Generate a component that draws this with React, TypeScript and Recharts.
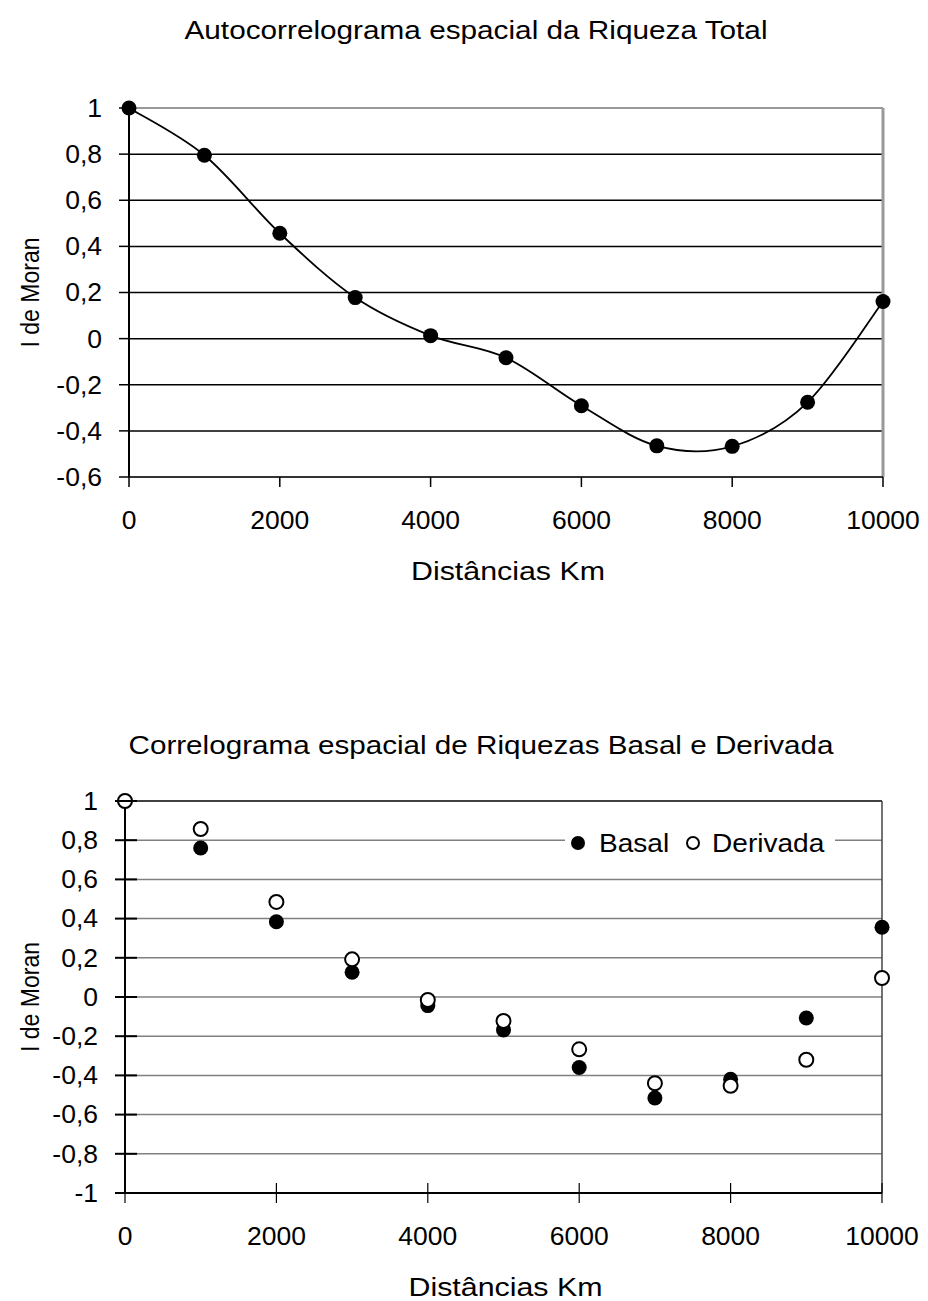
import React from "react";
import {
  LineChart,
  Line,
  ScatterChart,
  Scatter,
  XAxis,
  YAxis,
  CartesianGrid,
  ReferenceLine,
  Legend,
} from "recharts";

// distance classes (km)
const distances = [0, 1000, 2000, 3000, 4000, 5000, 6000, 7000, 8000, 9000, 10000];
// Moran's I, total richness
const riquezaTotal = [1, 0.795, 0.457, 0.178, 0.013, -0.083, -0.291, -0.465, -0.467, -0.276, 0.161];
// Moran's I, basal and derived richness
const basal = [1, 0.76, 0.384, 0.126, -0.044, -0.168, -0.36, -0.515, -0.42, -0.107, 0.356];
const derivada = [1, 0.857, 0.485, 0.192, -0.015, -0.122, -0.267, -0.44, -0.453, -0.32, 0.097];

const xTicks = [0, 2000, 4000, 6000, 8000, 10000];
const yTicksTop = [-0.6, -0.4, -0.2, 0, 0.2, 0.4, 0.6, 0.8, 1];
const yTicksBottom = [-1, -0.8, -0.6, -0.4, -0.2, 0, 0.2, 0.4, 0.6, 0.8, 1];

const FONT = "'Liberation Sans', Arial, sans-serif";
const STRETCH = 1.06;
const TICK_FONT = 25;

const fmt = (v: number) => String(v).replace(".", ",");

// spreadsheet-style smoothed line (Catmull-Rom bezier, tangent / 6)
function smoothCurve(context: any) {
  let pts: number[][] = [];
  return {
    areaStart() {},
    areaEnd() {},
    lineStart() {
      pts = [];
    },
    point(x: number, y: number) {
      pts.push([+x, +y]);
    },
    lineEnd() {
      const n = pts.length;
      if (!n) return;
      context.moveTo(pts[0][0], pts[0][1]);
      for (let i = 0; i < n - 1; i++) {
        const p0 = pts[i - 1] || pts[i];
        const p1 = pts[i];
        const p2 = pts[i + 1];
        const p3 = pts[i + 2] || p2;
        context.bezierCurveTo(
          p1[0] + (p2[0] - p0[0]) / 6,
          p1[1] + (p2[1] - p0[1]) / 6,
          p2[0] - (p3[0] - p1[0]) / 6,
          p2[1] - (p3[1] - p1[1]) / 6,
          p2[0],
          p2[1]
        );
      }
    },
  };
}

function XTick(props: any) {
  const { x, y, payload, cross } = props;
  const axisY = y - 24 - 10;
  return (
    <g>
      {cross && (
        <line x1={x} x2={x} y1={axisY - 10} y2={axisY + 10} stroke="#000" strokeWidth={1.2} />
      )}
      <g transform={`translate(${x},${y}) scale(${STRETCH},1)`}>
        <text x={0} y={0} dy="0.71em" textAnchor="middle" fontSize={TICK_FONT} fill="#000" fontFamily={FONT}>
          {fmt(payload.value)}
        </text>
      </g>
    </g>
  );
}

function YTick(props: any) {
  const { x, y, payload, cross } = props;
  const axisX = x + 17 + 10;
  return (
    <g>
      {cross && (
        <line x1={axisX - 10} x2={axisX + 12} y1={y} y2={y} stroke="#000" strokeWidth={2} />
      )}
      <g transform={`translate(${x},${y}) scale(${STRETCH},1)`}>
        <text x={0} y={0} dy="0.355em" textAnchor="end" fontSize={TICK_FONT} fill="#000" fontFamily={FONT}>
          {fmt(payload.value)}
        </text>
      </g>
    </g>
  );
}

function XLabel(props: any) {
  const { viewBox } = props;
  const cx = viewBox.x + viewBox.width / 2 + 2;
  return (
    <text
      x={cx}
      y={viewBox.y + 94}
      textAnchor="middle"
      dy="0.355em"
      fontSize={26}
      fontFamily={FONT}
      fill="#000"
      textLength={194}
      lengthAdjust="spacingAndGlyphs"
    >
      Distâncias Km
    </text>
  );
}

function YLabel(props: any) {
  const { viewBox } = props;
  const cy = viewBox.y + viewBox.height / 2;
  return (
    <text
      x={30}
      y={cy}
      transform={`rotate(-90, 30, ${cy})`}
      textAnchor="middle"
      dy="0.355em"
      fontSize={25}
      fontFamily={FONT}
      fill="#000"
      textLength={110}
      lengthAdjust="spacingAndGlyphs"
    >
      I de Moran
    </text>
  );
}

function BottomLegend() {
  return (
    <svg width={270} height={30} style={{ display: "block", background: "#fff" }}>
      <circle cx={13} cy={15} r={7} fill="#000" />
      <g transform={`translate(34,15) scale(1.08,1)`}>
        <text x={0} y={0} dy="0.355em" fontSize={26} fontFamily={FONT} fill="#000">
          Basal
        </text>
      </g>
      <circle cx={128} cy={15} r={6} fill="#fff" stroke="#000" strokeWidth={2} />
      <g transform={`translate(147,15) scale(1.08,1)`}>
        <text x={0} y={0} dy="0.355em" fontSize={26} fontFamily={FONT} fill="#000">
          Derivada
        </text>
      </g>
    </svg>
  );
}

const filledDot = (p: any) => <circle key={`b-${p.cx}`} cx={p.cx} cy={p.cy} r={7.5} fill="#000" />;
const openDot = (p: any) => (
  <circle key={`d-${p.cx}`} cx={p.cx} cy={p.cy} r={7} fill="#fff" stroke="#000" strokeWidth={2} />
);

export default function App() {
  const topData = distances.map((d, i) => ({ d, v: riquezaTotal[i] }));
  const basalData = distances.map((d, i) => ({ d, v: basal[i] }));
  const derivadaData = distances.map((d, i) => ({ d, v: derivada[i] }));

  return (
    <div style={{ position: "relative", width: 928, height: 1301, fontFamily: FONT, background: "#fff" }}>
      <style>{"body{margin:0}"}</style>

      <div style={{ position: "absolute", left: 0, top: 0 }}>
        <LineChart width={928} height={620} data={topData} margin={{ top: 108, right: 45, bottom: 83, left: 0 }}>
          <CartesianGrid vertical={false} stroke="#000" strokeWidth={1.5} />
          <XAxis
            dataKey="d"
            type="number"
            domain={[0, 10000]}
            ticks={xTicks}
            tickSize={10}
            tickMargin={24}
            height={60}
            axisLine={{ stroke: "#333", strokeWidth: 2 }}
            tickLine={{ stroke: "#000", strokeWidth: 1.5 }}
            tick={<XTick />}
            label={<XLabel />}
          />
          <YAxis
            type="number"
            domain={[-0.6, 1]}
            ticks={yTicksTop}
            width={129}
            tickSize={10}
            tickMargin={17}
            axisLine={{ stroke: "#000", strokeWidth: 2 }}
            tickLine={{ stroke: "#000", strokeWidth: 1.5 }}
            tick={<YTick />}
            label={<YLabel />}
          />
          <ReferenceLine y={1} stroke="#999" strokeWidth={2} />
          <ReferenceLine x={10000} stroke="#999" strokeWidth={3} />
          <Line
            dataKey="v"
            type={smoothCurve as any}
            stroke="#000"
            strokeWidth={1.8}
            dot={{ r: 7.5, fill: "#000", stroke: "#000", strokeWidth: 0 }}
            isAnimationActive={false}
          />
        </LineChart>
      </div>

      <div style={{ position: "absolute", left: 0, top: 640 }}>
        <ScatterChart width={928} height={661} margin={{ top: 161, right: 46, bottom: 48, left: 0 }}>
          <CartesianGrid vertical={false} stroke="#808080" strokeWidth={1.5} />
          <XAxis
            dataKey="d"
            type="number"
            domain={[0, 10000]}
            ticks={xTicks}
            tickSize={10}
            tickMargin={24}
            height={60}
            axisLine={{ stroke: "#000", strokeWidth: 2 }}
            tickLine={false}
            tick={<XTick cross />}
            label={<XLabel />}
          />
          <YAxis
            dataKey="v"
            type="number"
            domain={[-1, 1]}
            ticks={yTicksBottom}
            width={125}
            tickSize={10}
            tickMargin={17}
            axisLine={{ stroke: "#000", strokeWidth: 2 }}
            tickLine={false}
            tick={<YTick cross />}
            label={<YLabel />}
          />
          <ReferenceLine y={1} stroke="#222" strokeWidth={1.5} />
          <ReferenceLine x={10000} stroke="#444" strokeWidth={1.5} />
          <Legend
            layout="vertical"
            align="center"
            verticalAlign="middle"
            content={() => <BottomLegend />}
            wrapperStyle={{ left: 565, top: 188, width: 270, height: 30 }}
          />
          <Scatter name="Basal" data={basalData} shape={filledDot} isAnimationActive={false} />
          <Scatter name="Derivada" data={derivadaData} shape={openDot} isAnimationActive={false} />
        </ScatterChart>
      </div>

      <svg
        width={928}
        height={1301}
        style={{ position: "absolute", left: 0, top: 0, pointerEvents: "none" }}
      >
        <text
          x={476}
          y={30}
          dy="0.355em"
          textAnchor="middle"
          fontSize={26}
          fontFamily={FONT}
          fill="#000"
          textLength={583}
          lengthAdjust="spacingAndGlyphs"
        >
          Autocorrelograma espacial da Riqueza Total
        </text>
        <text
          x={481}
          y={745}
          dy="0.355em"
          textAnchor="middle"
          fontSize={26}
          fontFamily={FONT}
          fill="#000"
          textLength={705}
          lengthAdjust="spacingAndGlyphs"
        >
          Correlograma espacial de Riquezas Basal e Derivada
        </text>
      </svg>
    </div>
  );
}
